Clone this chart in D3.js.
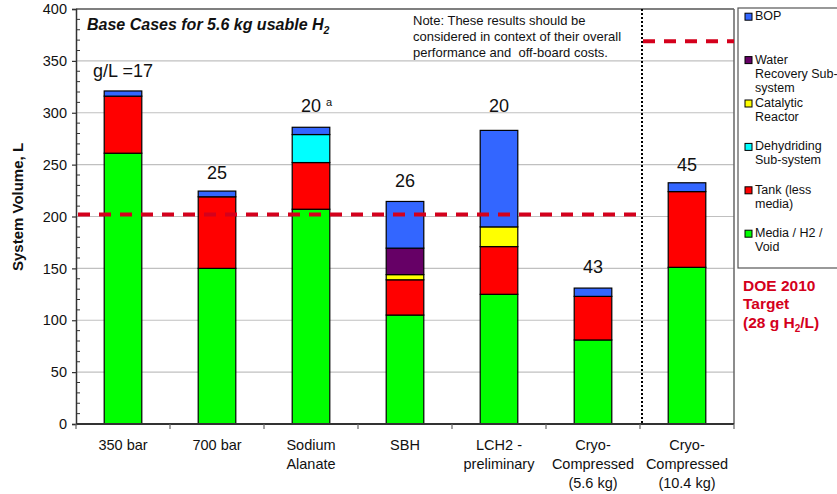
<!DOCTYPE html>
<html>
<head>
<meta charset="utf-8">
<script src="https://cdn.jsdelivr.net/npm/d3@7"></script>
<style>
  html, body { margin: 0; padding: 0; background: #fff; }
  svg { display: block; font-family: "Liberation Sans", Arial, sans-serif; }
</style>
</head>
<body>
<svg id="chart" width="837" height="494"></svg>
<script>
// ---------------- data ----------------
const categories = ["350 bar", "700 bar", "Sodium\nAlanate", "SBH", "LCH2 -\npreliminary", "Cryo-\nCompressed\n(5.6 kg)", "Cryo-\nCompressed\n(10.4 kg)"];
const seriesNames = ["Media / H2 / Void", "Tank (less media)", "Dehydriding Sub-system", "Catalytic Reactor", "Water Recovery Sub-system", "BOP"];
const media      = [261, 150, 207, 105, 125, 81, 151];
const tank       = [55, 69, 45, 34, 46, 42, 73];
const dehydrid   = [0, 0, 27, 0, 0, 0, 0];
const catalytic  = [0, 0, 0, 5, 19, 0, 0];
const waterRec   = [0, 0, 0, 25.5, 0, 0, 0];
const bop        = [5, 5.5, 7, 45, 93, 8, 8.5];
const densityLabels = ["g/L =17", "25", "20", "26", "20", "43", "45"];
const densityNotes  = ["", "", "a", "", "", "", ""];
const labelLevels   = [334, 236, 301, 228, 301, 146, 244];
const targetValues  = [202, 369];
const yTicks = [0, 50, 100, 150, 200, 250, 300, 350, 400];
const legendLines = [["BOP"], ["Water", "Recovery Sub-", "system"], ["Catalytic", "Reactor"], ["Dehydriding", "Sub-system"], ["Tank (less", "media)"], ["Media / H2 /", "Void"]];

// ---------------- setup ----------------
const colors = {
  "Media / H2 / Void": "#00ff00",
  "Tank (less media)": "#ff0000",
  "Dehydriding Sub-system": "#00ffff",
  "Catalytic Reactor": "#ffff00",
  "Water Recovery Sub-system": "#660066",
  "BOP": "#3366ff"
};
const seriesValues = [media, tank, dehydrid, catalytic, waterRec, bop];
const table = categories.map((c, i) => {
  const row = { cat: c };
  seriesNames.forEach((s, k) => row[s] = seriesValues[k][i]);
  return row;
});
const stacked = d3.stack().keys(seriesNames)(table);

const svg = d3.select("#chart");
const L = 76, R = 734, T = 9, B = 424;
const x = d3.scaleBand().domain(categories).range([L, R]).paddingInner(0.6).paddingOuter(0.3);
const y = d3.scaleLinear().domain([0, 400]).range([B, T]);
const step = x.step();
const red = "#d4001c";

// gridlines
svg.append("g").selectAll("line").data(yTicks.filter(t => t > 0 && t < 400)).join("line")
  .attr("x1", L).attr("x2", R).attr("y1", d => y(d)).attr("y2", d => y(d))
  .attr("stroke", "#c0c0c0").attr("stroke-width", 1.2);

// plot frame top/right
svg.append("line").attr("x1", L).attr("x2", R).attr("y1", y(400)).attr("y2", y(400)).attr("stroke", "#555").attr("stroke-width", 1.5);
svg.append("line").attr("x1", R).attr("x2", R).attr("y1", y(400)).attr("y2", y(0)).attr("stroke", "#666").attr("stroke-width", 1.5);

// bars
svg.append("g").selectAll("g").data(stacked).join("g")
  .attr("fill", d => colors[d.key])
  .selectAll("rect").data(d => d.filter(p => p[1] - p[0] > 0)).join("rect")
  .attr("x", d => x(d.data.cat))
  .attr("width", x.bandwidth())
  .attr("y", d => y(d[1]))
  .attr("height", d => y(d[0]) - y(d[1]))
  .attr("stroke", "#000").attr("stroke-width", 1.2);

// y axis
const yAxis = d3.axisLeft(y).tickValues(yTicks).tickSize(4).tickPadding(5);
const gy = svg.append("g").attr("transform", `translate(${L},0)`).call(yAxis);
gy.select(".domain").attr("stroke", "#333").attr("stroke-width", 1.5);
gy.selectAll(".tick line").attr("stroke", "#333").attr("stroke-width", 1.2);
gy.selectAll(".tick text").attr("font-size", "14.5px").attr("fill", "#111").attr("font-family", "Liberation Sans, Arial, sans-serif");
// minor ticks inside
svg.append("g").selectAll("line").data(d3.range(10, 400, 10).filter(v => v % 50 !== 0)).join("line")
  .attr("x1", L).attr("x2", L + 4).attr("y1", d => y(d)).attr("y2", d => y(d))
  .attr("stroke", "#333").attr("stroke-width", 1);

// x axis
svg.append("line").attr("x1", L).attr("x2", R).attr("y1", B).attr("y2", B).attr("stroke", "#333").attr("stroke-width", 1.8);
const bounds = d3.range(categories.length + 1).map(i => L + i * step);
svg.append("g").selectAll("line").data(bounds).join("line")
  .attr("x1", d => d).attr("x2", d => d).attr("y1", B).attr("y2", B + 5)
  .attr("stroke", "#666").attr("stroke-width", 1.2);
const xl = svg.append("g").selectAll("text").data(categories).join("text")
  .attr("text-anchor", "middle").attr("font-size", "14.5px").attr("fill", "#111")
  .attr("x", d => x(d) + x.bandwidth() / 2).attr("y", 450);
xl.selectAll("tspan").data(d => d.split("\n")).join("tspan")
  .attr("x", function () { return d3.select(this.parentNode).attr("x"); })
  .attr("dy", (d, i) => i === 0 ? 0 : 19)
  .text(d => d);

// y axis title
svg.append("text").attr("transform", "translate(23,207) rotate(-90)")
  .attr("text-anchor", "middle").attr("font-size", "15px").attr("font-weight", "bold").attr("fill", "#111")
  .text("System Volume, L");

// density labels
const dl = svg.append("g").selectAll("text").data(categories).join("text")
  .attr("font-size", "18px").attr("fill", "#111")
  .attr("y", (d, i) => y(labelLevels[i]))
  .attr("x", (d, i) => densityNotes[i] ? x(d) + x.bandwidth() / 2 - 10 : x(d) + x.bandwidth() / 2)
  .attr("text-anchor", (d, i) => densityNotes[i] ? "start" : "middle");
dl.append("tspan").text((d, i) => densityLabels[i]);
dl.filter((d, i) => densityNotes[i]).append("tspan").attr("font-size", "11px").attr("dx", 5).attr("dy", -6)
  .text((d, i) => densityNotes[categories.indexOf(d)]);

// divider (dotted)
const divX = L + 6 * step + 2;
svg.append("line").attr("x1", divX).attr("x2", divX).attr("y1", T).attr("y2", B)
  .attr("stroke", "#000").attr("stroke-width", 2).attr("stroke-dasharray", "2,2");

// targets
svg.append("line").attr("x1", L + 2).attr("x2", divX - 6).attr("y1", y(targetValues[0])).attr("y2", y(targetValues[0]))
  .attr("stroke", red).attr("stroke-width", 4).attr("stroke-dasharray", "12,9");
svg.append("line").attr("x1", divX + 1).attr("x2", R).attr("y1", y(targetValues[1])).attr("y2", y(targetValues[1]))
  .attr("stroke", red).attr("stroke-width", 4).attr("stroke-dasharray", "12,9");

// title
const title = svg.append("text").attr("x", 87).attr("y", 30).attr("font-size", "16px")
  .attr("font-weight", "bold").attr("font-style", "italic").attr("fill", "#111");
title.append("tspan").text("Base Cases for 5.6 kg usable H");
title.append("tspan").attr("font-size", "10.5px").attr("dy", 4).text("2");

// note
const note = ["Note: These results should be", "considered in context of their overall", "performance and  off-board costs."];
svg.append("g").selectAll("text").data(note).join("text")
  .attr("x", 413).attr("y", (d, i) => 25 + i * 16).attr("font-size", "13px").attr("fill", "#111")
  .attr("xml:space", "preserve").style("white-space", "pre")
  .text(d => d);

// legend
svg.append("rect").attr("x", 738).attr("y", 8).attr("width", 130).attr("height", 260)
  .attr("fill", "#fff").attr("stroke", "#555").attr("stroke-width", 1.2);
const legendOrder = seriesNames.slice().reverse();
const lg = svg.append("g").selectAll("g").data(legendOrder).join("g")
  .attr("transform", (d, i) => `translate(745,${15.7 + i * 43.4})`);
lg.append("rect").attr("x", 0).attr("y", -2.5).attr("width", 7).attr("height", 7)
  .attr("fill", d => colors[d]).attr("stroke", "#000").attr("stroke-width", 1);
lg.append("text").attr("x", 10).attr("y", 4.5).attr("font-size", "12.5px").attr("fill", "#111")
  .selectAll("tspan").data((d, i) => legendLines[i]).join("tspan")
  .attr("x", 10).attr("dy", (d, i) => i === 0 ? 0 : 14).text(d => d);

// DOE target text
const doe = svg.append("text").attr("x", 743).attr("y", 291).attr("font-size", "15.5px").attr("font-weight", "bold").attr("fill", red);
doe.append("tspan").attr("x", 743).text("DOE 2010");
doe.append("tspan").attr("x", 743).attr("dy", 18.3).text("Target");
doe.append("tspan").attr("x", 743).attr("dy", 18.3).text("(28 g H");
doe.append("tspan").attr("font-size", "10px").attr("dy", 4).text("2");
doe.append("tspan").attr("dy", -4).text("/L)");
</script>
</body>
</html>
